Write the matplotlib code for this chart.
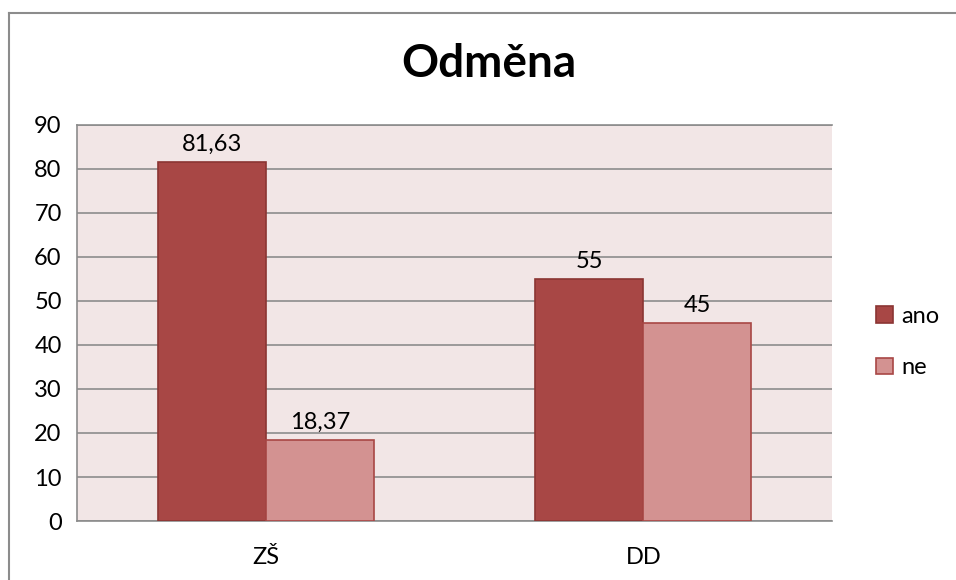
import matplotlib
matplotlib.use("Agg")
import matplotlib.pyplot as plt
from matplotlib.lines import Line2D
import numpy as np

categories = ["ZŠ", "DD"]
series_names = ["ano", "ne"]
ano = [81.63, 55]
ne = [18.37, 45]
value_labels = [["81,63", "55"], ["18,37", "45"]]
yticks = [0, 10, 20, 30, 40, 50, 60, 70, 80, 90]

plt.rcParams['font.family'] = ['Lato', 'DejaVu Sans']

fig = plt.figure(figsize=(9.56, 5.8), dpi=100)
fig.patch.set_facecolor("white")

# outer chart frame (top and left edges visible)
fx, fy = 8.5 / 956, 1 - 12.5 / 580
fig.add_artist(Line2D([fx, 1.01], [fy, fy], transform=fig.transFigure,
                      color="#8c8c8c", linewidth=1.5))
fig.add_artist(Line2D([fx, fx], [-0.01, fy], transform=fig.transFigure,
                      color="#8c8c8c", linewidth=1.5))

ax = fig.add_axes([77/956, 1 - 521/580, (832 - 77)/956, (521 - 125)/580])
ax.set_facecolor("#f2e6e6")

x = np.arange(len(categories))
w = 0.286
colors = ["#a84745", "#d39291"]
edges = ["#8b3533", "#a84745"]
for i, (vals, name) in enumerate(zip([ano, ne], series_names)):
    pos = x + (i - 0.5) * w
    bars = ax.bar(pos, vals, width=w, color=colors[i], edgecolor=edges[i],
                  linewidth=1.2, label=name, zorder=3)
    for b, lab in zip(bars, value_labels[i]):
        ax.text(b.get_x() + b.get_width() / 2, b.get_height() + 1.6, lab,
                ha="center", va="bottom", fontsize=17, color="black")

ax.set_xlim(-0.5, 1.5)
ax.set_ylim(0, 90)
ax.set_yticks(yticks)
ax.set_yticklabels([str(t) for t in yticks], fontsize=17)
ax.set_xticks(x)
ax.set_xticklabels(categories, fontsize=17)
ax.tick_params(axis="y", length=0, pad=11)
ax.tick_params(axis="x", length=0, pad=19)
ax.yaxis.grid(True, color="#8c8c8c", linewidth=1.2, zorder=1)
ax.set_axisbelow(True)
for s in ["left", "bottom", "top"]:
    ax.spines[s].set_color("#8c8c8c")
    ax.spines[s].set_linewidth(1.2)
ax.spines["right"].set_visible(False)

fig.text(489/956, 1 - 64/580, "Odměna", ha="center", va="center",
         fontsize=33, fontweight="bold")

leg = fig.legend(loc="center left", bbox_to_anchor=(855/956, 1 - 342/580),
                 frameon=False, fontsize=17, handlelength=0.7, handleheight=0.7,
                 labelspacing=1.3, handletextpad=0.35)

fig.savefig("out.png", dpi=100, facecolor="white")
